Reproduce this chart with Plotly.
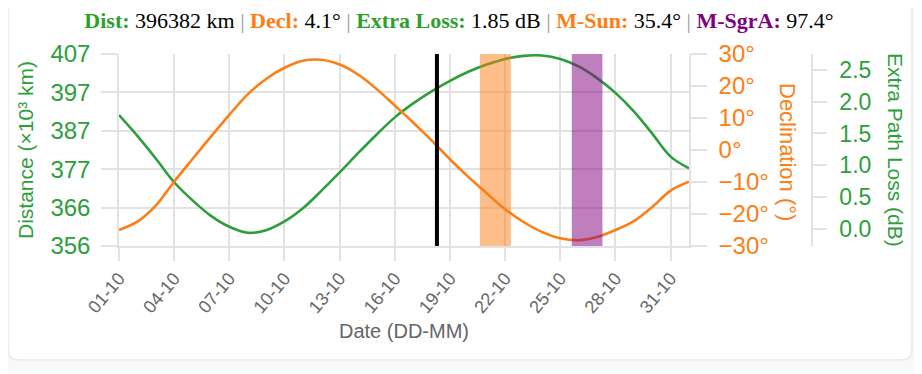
import plotly.graph_objects as go

# ---------------- data ----------------
dates = [f"2025-10-{d:02d}" for d in range(1, 32)] + ["2025-11-01"]

distance_kkm = [391.0, 385.5, 379.5, 373.2, 368.4, 364.3, 361.4, 359.8, 360.5,
                362.8, 366.3, 370.9, 375.8, 380.9, 385.8, 390.4, 394.1, 397.3,
                400.1, 402.5, 404.4, 405.9, 406.7, 406.8, 405.9, 403.9, 400.8,
                396.9, 392.0, 386.1, 380.0, 376.9]

declination_deg = [-25.0, -22.4, -17.4, -9.9, -2.8, 4.2, 11.0, 17.4, 22.2,
                   25.7, 27.9, 28.2, 26.7, 23.6, 19.1, 13.9, 8.6, 3.0, -2.9,
                   -8.4, -13.5, -18.5, -22.5, -25.6, -27.6, -28.2, -27.2,
                   -25.0, -22.2, -17.8, -12.7, -9.9]

dist_range = [356.3, 407.2]
dist_ticks = [356.3, 366.48, 376.66, 386.84, 397.02, 407.2]
dist_ticktext = ["356", "366", "377", "387", "397", "407"]
decl_range = [-30, 30]
loss_range = [-0.27, 2.75]

now_time = "2025-10-18 07:00"
sun_window = ["2025-10-20 15:00", "2025-10-22 07:30"]
sgra_window = ["2025-10-25 15:00", "2025-10-27 07:00"]

title_parts = [("Dist:", "396382 km", "#2ca02c"),
               ("Decl:", "4.1°", "#fd7e14"),
               ("Extra Loss:", "1.85 dB", "#2ca02c"),
               ("M-Sun:", "35.4°", "#fd7e14"),
               ("M-SgrA:", "97.4°", "#800080")]

# ---------------- style ----------------
GREEN = "#2c9f3c"
ORANGE = "#fd7e14"
GRID = "#e2e2e2"
SANS = "Liberation Sans, Arial, sans-serif"

OFF = 8                      # page body margin
W, H = 922 - OFF, 374 - OFF
ML, MT = 119 - OFF, 54 - OFF
MR = W - (812 - OFF)
MB = H - (246 - OFF)
plot_w = W - ML - MR
plot_h = H - MT - MB
x_dom_end = (689 - 119) / plot_w


def px_x(p):                 # screen pixel -> paper x
    return (p - 119) / plot_w


def px_y(p):                 # screen pixel -> paper y
    return (246 - p) / plot_h


fig = go.Figure()

fig.add_trace(go.Scatter(x=dates, y=distance_kkm, mode="lines",
                         line=dict(color=GREEN, width=2.6, shape="spline"),
                         name="Distance", yaxis="y", hoverinfo="skip"))
fig.add_trace(go.Scatter(x=dates, y=declination_deg, mode="lines",
                         line=dict(color=ORANGE, width=2.6, shape="spline"),
                         name="Declination", yaxis="y2", hoverinfo="skip"))
fig.add_trace(go.Scatter(x=[], y=[], yaxis="y3", showlegend=False,
                         hoverinfo="skip"))

# card background with rounded corners
x0, x1, y0, y1, r = px_x(8), px_x(912), px_y(360), px_y(-6), 10
rx, ry = r / plot_w, r / plot_h
card = (f"M {x0+rx},{y0} L {x1-rx},{y0} Q {x1},{y0} {x1},{y0+ry} "
        f"L {x1},{y1-ry} Q {x1},{y1} {x1-rx},{y1} "
        f"L {x0+rx},{y1} Q {x0},{y1} {x0},{y1-ry} "
        f"L {x0},{y0+ry} Q {x0},{y0} {x0+rx},{y0} Z")
shapes = [dict(type="path", path=card, xref="paper", yref="paper",
               fillcolor="white", line=dict(color="#e8ebeb", width=1.5),
               layer="below")]

shapes.append(dict(type="rect", xref="x", yref="paper", x0=sun_window[0],
                   x1=sun_window[1], y0=0, y1=1, fillcolor="rgba(253,126,20,0.5)",
                   line=dict(width=0), layer="above"))
shapes.append(dict(type="rect", xref="x", yref="paper", x0=sgra_window[0],
                   x1=sgra_window[1], y0=0, y1=1, fillcolor="rgba(128,0,128,0.5)",
                   line=dict(width=0), layer="above"))
shapes.append(dict(type="line", xref="x", yref="paper", x0=now_time,
                   x1=now_time, y0=0, y1=1, line=dict(color="black", width=4),
                   layer="above"))

sep = " <span style='color:#999999'>|</span> "
title_text = sep.join(f"<b><span style='color:{c}'>{lab}</span></b> {val}"
                      for lab, val, c in title_parts)

annotations = [
    dict(text="Distance (×10³ km)", xref="paper", yref="paper",
         x=px_x(25), y=px_y(150), textangle=-90, showarrow=False,
         xanchor="center", yanchor="middle",
         font=dict(family=SANS, size=21, color=GREEN)),
    dict(text="Declination (°)", xref="paper", yref="paper",
         x=px_x(788), y=px_y(152), textangle=90, showarrow=False,
         xanchor="center", yanchor="middle",
         font=dict(family=SANS, size=22, color=ORANGE)),
    dict(text="Extra Path Loss (dB)", xref="paper", yref="paper",
         x=px_x(896), y=px_y(150), textangle=90, showarrow=False,
         xanchor="center", yanchor="middle",
         font=dict(family=SANS, size=21, color=GREEN)),
    dict(text="Date (DD-MM)", xref="paper", yref="paper",
         x=x_dom_end / 2, y=px_y(331), showarrow=False,
         xanchor="center", yanchor="middle",
         font=dict(family=SANS, size=20, color="#666666")),
]

fig.update_layout(
    width=W, height=H,
    margin=dict(l=ML, r=MR, t=MT, b=MB, pad=0),
    paper_bgcolor="#f8fafa", plot_bgcolor="white",
    showlegend=False,
    title=dict(text=title_text, x=(459 - OFF) / W, xref="container",
               xanchor="center", y=1 - 5 / H, yref="container",
               yanchor="top",
               font=dict(family="Liberation Serif, Times New Roman, serif",
                         size=22, color="black")),
    xaxis=dict(domain=[0, x_dom_end], type="date",
               range=[dates[0], dates[-1]],
               tick0=dates[0], dtick=3 * 86400000, tickformat="%d-%m",
               tickangle=-50, ticks="outside", ticklen=13, tickcolor=GRID,
               tickwidth=1.5, showgrid=True, gridcolor=GRID, gridwidth=1.5,
               showline=True, linecolor=GRID, linewidth=1.5,
               tickfont=dict(family=SANS, size=18, color="#666666"),
               zeroline=False),
    yaxis=dict(range=dist_range, tickvals=dist_ticks, ticktext=dist_ticktext,
               ticks="outside", ticklen=16, tickcolor=GRID, tickwidth=1.5,
               showgrid=True, gridcolor=GRID, gridwidth=1.5,
               showline=True, linecolor=GRID, linewidth=1.5, zeroline=False,
               tickfont=dict(family=SANS, size=24, color=GREEN),
               ticklabelstandoff=6),
    yaxis2=dict(range=decl_range, dtick=10, ticksuffix="°", overlaying="y",
                side="right", anchor="x", ticks="outside", ticklen=16,
                tickcolor=GRID, tickwidth=1.5, showgrid=False,
                showline=True, linecolor=GRID, linewidth=1.5, zeroline=False,
                tickfont=dict(family=SANS, size=24, color=ORANGE),
                ticklabelstandoff=7),
    yaxis3=dict(range=loss_range, dtick=0.5, tick0=0, tickformat=".1f",
                overlaying="y", side="right", anchor="free", position=1.0,
                ticks="outside", ticklen=14, tickcolor=GRID, tickwidth=1.5,
                showgrid=False, showline=True, linecolor=GRID, linewidth=1.5,
                zeroline=False,
                tickfont=dict(family=SANS, size=23, color=GREEN),
                ticklabelstandoff=8),
    shapes=shapes,
    annotations=annotations,
)

fig.write_html("out.html")
